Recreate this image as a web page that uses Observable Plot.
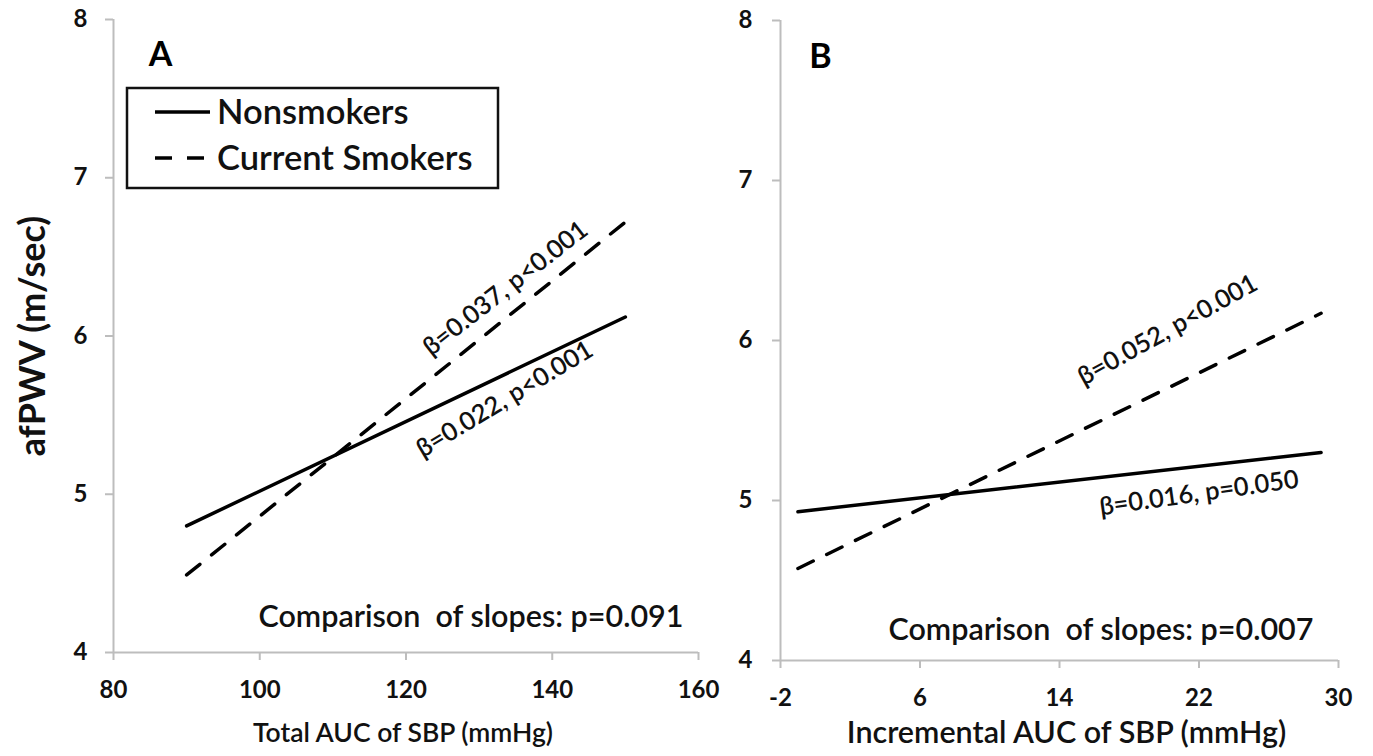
<!DOCTYPE html>
<html><head><meta charset="utf-8">
<script src="https://cdn.jsdelivr.net/npm/d3@7"></script>
<script src="https://cdn.jsdelivr.net/npm/@observablehq/plot@0.6"></script>
<style>
html,body{margin:0;padding:0;background:#fff;}
#wrap{position:relative;width:1373px;height:756px;overflow:hidden;background:#fff;font-family:Lato,"Open Sans",sans-serif;}
#wrap > svg{position:absolute;top:0;}
#wrap text{white-space:pre;}
</style></head><body><div id="wrap"></div>
<script>
// ---- data ----
const seriesNames = ["Nonsmokers", "Current Smokers"];
const yTicks = [4, 5, 6, 7, 8];
const xTicksA = [80, 100, 120, 140, 160];
const xTicksB = [-2, 6, 14, 22, 30];
const totalAUC = [90, 150];
const nonsmokersA = [4.80, 6.12];
const smokersA = [4.49, 6.72];
const incrementalAUC = [-1, 29];
const nonsmokersB = [4.93, 5.30];
const smokersB = [4.575, 6.17];
const labelsA = ["β=0.022, p<0.001", "β=0.037, p<0.001"];
const labelsB = ["β=0.016, p=0.050", "β=0.052, p<0.001"];
const comparisonA = "Comparison  of slopes: p=0.091";
const comparisonB = "Comparison  of slopes: p=0.007";
const yTitle = "afPWV (m/sec)";
const xTitleA = "Total AUC of SBP (mmHg)";
const xTitleB = "Incremental AUC of SBP (mmHg)";

const GREY = "#bdbdbd";
const FONT = "Lato, 'Open Sans', sans-serif";
const wrap = document.getElementById("wrap");

function rows(xs, ys) { return xs.map((x, i) => ({x, y: ys[i]})); }
function lineAt(xs, ys, x) { return ys[0] + (x - xs[0]) / (xs[1] - xs[0]) * (ys[1] - ys[0]); }

function panel(o) {
  const non = rows(o.xs, o.non), smk = rows(o.xs, o.smk);
  const marks = [
    Plot.ruleY([4], {stroke: GREY, strokeWidth: 2}),
    Plot.ruleX([o.xDomain[0]], {stroke: GREY, strokeWidth: 2}),
    Plot.axisY({ticks: yTicks, tickSize: 8, tickPadding: o.yPad, stroke: GREY, strokeWidth: 2,
      fill: "#111", fontSize: 24, fontWeight: "bold", label: null, tickFormat: d => String(d)}),
    Plot.axisX({ticks: o.xTicks, tickSize: 8, tickPadding: o.xPad, stroke: GREY, strokeWidth: 2,
      fill: "#111", fontSize: 24, fontWeight: "bold", label: null, tickFormat: d => String(d)}),
    Plot.line(non, {x: "x", y: "y", stroke: "#000", strokeWidth: 3.5}),
    Plot.line(smk, {x: "x", y: "y", stroke: "#000", strokeWidth: 3.5, strokeDasharray: "17,15"}),
    // slope annotations, anchored on their lines
    Plot.text([o.labels[0]], {x: o.lab[0].x, y: lineAt(o.xs, o.non, o.lab[0].x), dy: o.lab[0].dy,
      rotate: o.lab[0].r, fontSize: 25.5, fontWeight: 600, fill: "#111"}),
    Plot.text([o.labels[1]], {x: o.lab[1].x, y: lineAt(o.xs, o.smk, o.lab[1].x), dy: o.lab[1].dy,
      rotate: o.lab[1].r, fontSize: 25.5, fontWeight: 600, fill: "#111"}),
    Plot.text([o.letter], {frameAnchor: "top-left", textAnchor: "middle", lineAnchor: "middle",
      dx: o.letterDx, dy: o.letterDy, fontSize: 34, fontWeight: "bold", fill: "#000"}),
    Plot.text([o.comparison], {frameAnchor: "bottom-right", textAnchor: "end", lineAnchor: "middle",
      dx: o.compDx, dy: o.compDy, fontSize: 30.5, fontWeight: 600, fill: "#111"}),
    Plot.text([o.xTitle], {frameAnchor: "bottom", textAnchor: "middle", lineAnchor: "middle",
      dx: o.xTitleDx, dy: o.xTitleDy, fontSize: o.xTitleSize, fontWeight: 600, fill: "#111"})
  ];
  if (o.yTitle) marks.push(Plot.text([o.yTitle], {frameAnchor: "left", textAnchor: "middle", lineAnchor: "middle",
      rotate: -90, dx: -80, fontSize: 36, fontWeight: "bold", fill: "#111"}));
  const svg = Plot.plot({
    width: o.width, height: 756,
    marginLeft: o.ml, marginRight: o.mr, marginTop: o.mt, marginBottom: o.mb,
    x: {domain: o.xDomain}, y: {domain: [4, 8]},
    style: {fontFamily: FONT, background: "transparent", overflow: "visible", maxWidth: "none"},
    marks
  });
  svg.style.left = o.left + "px";
  wrap.appendChild(svg);
}

panel({left: 0, width: 730, ml: 113, mr: 32, mt: 19, mb: 104,
  xs: totalAUC, non: nonsmokersA, smk: smokersA, xDomain: [80, 160], xTicks: xTicksA,
  xPad: 20, yPad: 18, labels: labelsA,
  lab: [{x: 133.5, dy: 25, r: -31}, {x: 133.6, dy: -30, r: -38}],
  letter: "A", letterDx: 47, letterDy: 36,
  comparison: comparisonA, compDx: -15, compDy: -35,
  xTitle: xTitleA, xTitleDx: -3, xTitleDy: 81, xTitleSize: 26.5, yTitle});

panel({left: 730, width: 643, ml: 50, mr: 35, mt: 20, mb: 96,
  xs: incrementalAUC, non: nonsmokersB, smk: smokersB, xDomain: [-2, 30], xTicks: xTicksB,
  xPad: 20, yPad: 20, labels: labelsB,
  lab: [{x: 22, dy: 27, r: -8}, {x: 20.2, dy: -58, r: -29}],
  letter: "B", letterDx: 40, letterDy: 37,
  comparison: comparisonB, compDx: -25, compDy: -30,
  xTitle: xTitleB, xTitleDx: 7, xTitleDy: 73, xTitleSize: 30.5});

// ---- legend (overlay inside panel A) ----
const lg = d3.select(wrap).append("svg")
  .attr("width", 380).attr("height", 110)
  .style("left", "122px").style("top", "83px");
lg.append("rect").attr("x", 5).attr("y", 5).attr("width", 371).attr("height", 100)
  .attr("fill", "#fff").attr("stroke", "#111").attr("stroke-width", 2.5);
const styles = [null, "17,15"];
seriesNames.forEach((name, i) => {
  const yy = 29 + i * 46;
  lg.append("line").attr("x1", 33).attr("x2", 88).attr("y1", yy).attr("y2", yy)
    .attr("stroke", "#000").attr("stroke-width", 3.5)
    .attr("stroke-dasharray", styles[i]);
  lg.append("text").attr("x", 95).attr("y", yy + 12)
    .attr("font-size", 34.5).attr("font-weight", 600).attr("fill", "#111")
    .style("font-family", FONT).text(name);
});
</script></body></html>
